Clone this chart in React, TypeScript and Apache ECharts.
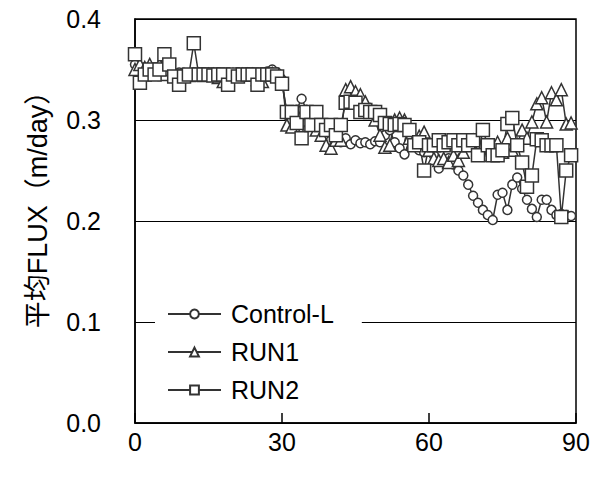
import React, { useEffect, useRef } from "react";
import * as echarts from "echarts";

const days = [
  0, 1, 2, 3, 4, 5, 6, 7, 8, 9, 10, 11, 12, 13, 14, 15, 16, 17, 18, 19,
  20, 21, 22, 23, 24, 25, 26, 27, 28, 29, 30, 31, 32, 33, 34, 35, 36, 37, 38, 39,
  40, 41, 42, 43, 44, 45, 46, 47, 48, 49, 50, 51, 52, 53, 54, 55, 56, 57, 58, 59,
  60, 61, 62, 63, 64, 65, 66, 67, 68, 69, 70, 71, 72, 73, 74, 75, 76, 77, 78, 79,
  80, 81, 82, 83, 84, 85, 86, 87, 88, 89,
];

const controlL = [
  0.355, 0.35, 0.345, 0.348, 0.345, 0.347, 0.345, 0.348, 0.345, 0.347,
  0.345, 0.346, 0.345, 0.347, 0.345, 0.346, 0.345, 0.347, 0.345, 0.346,
  0.345, 0.347, 0.346, 0.345, 0.347, 0.346, 0.347, 0.348, 0.35, 0.347,
  0.34, 0.305, 0.3, 0.31, 0.321, 0.31, 0.3, 0.298, 0.29, 0.285,
  0.28, 0.282, 0.278, 0.282, 0.276, 0.28, 0.277, 0.278, 0.276, 0.279,
  0.278, 0.285, 0.29, 0.278, 0.272, 0.266, 0.28, 0.275, 0.27, 0.268,
  0.272, 0.265, 0.252, 0.258, 0.262, 0.256, 0.25, 0.245, 0.236, 0.225,
  0.218, 0.211, 0.206, 0.201, 0.226, 0.228, 0.211, 0.236, 0.243, 0.232,
  0.221, 0.212, 0.204, 0.221, 0.221, 0.211, 0.206, 0.207, 0.206, 0.205,
];

const run1 = [
  0.35, 0.355, 0.352, 0.355, 0.348, 0.355, 0.345, 0.35, 0.345, 0.342,
  0.345, 0.344, 0.345, 0.345, 0.344, 0.345, 0.345, 0.342, 0.338, 0.34,
  0.345, 0.344, 0.345, 0.345, 0.345, 0.34, 0.338, 0.345, 0.346, 0.345,
  0.342, 0.295, 0.293, 0.3, 0.305, 0.3, 0.296, 0.29, 0.285, 0.275,
  0.272, 0.28, 0.28, 0.33, 0.333, 0.328, 0.325, 0.318, 0.31, 0.3,
  0.285, 0.273, 0.275, 0.3, 0.302, 0.3, 0.282, 0.275, 0.284, 0.288,
  0.27, 0.262, 0.26, 0.262, 0.258, 0.265, 0.26, 0.268, 0.275, 0.28,
  0.27, 0.268, 0.265, 0.27, 0.278, 0.268, 0.282, 0.27, 0.276, 0.29,
  0.282, 0.298, 0.316, 0.322, 0.298, 0.327, 0.32, 0.33, 0.296, 0.297,
];

const run2 = [
  0.365, 0.337, 0.345, 0.35, 0.345, 0.35, 0.365, 0.355, 0.343, 0.335,
  0.343, 0.345, 0.376, 0.345, 0.345, 0.345, 0.344, 0.345, 0.345, 0.335,
  0.345, 0.343, 0.345, 0.345, 0.345, 0.335, 0.345, 0.345, 0.345, 0.343,
  0.336, 0.308, 0.308, 0.297, 0.282, 0.308, 0.295, 0.308, 0.295, 0.29,
  0.295, 0.285, 0.295, 0.317, 0.318, 0.317, 0.308, 0.31, 0.308, 0.308,
  0.305, 0.297, 0.296, 0.295, 0.296, 0.295, 0.29, 0.275, 0.278, 0.25,
  0.275, 0.275, 0.28, 0.275, 0.278, 0.28, 0.275, 0.28, 0.275, 0.28,
  0.265, 0.29, 0.275, 0.265, 0.265, 0.27, 0.296, 0.302, 0.275, 0.258,
  0.234, 0.245, 0.281, 0.28, 0.275, 0.275, 0.275, 0.204, 0.25, 0.265,
];

const xTicks = [0, 30, 60, 90];
const yTicks = [0, 0.1, 0.2, 0.3, 0.4];

const FONT = "'Liberation Sans', Arial, 'Noto Sans CJK SC', sans-serif";
const INK = "#333333";

function pairs(values: number[]) {
  return days.map((d, i) => [d, values[i]]);
}

export default function App() {
  const ref = useRef<HTMLDivElement>(null);
  useEffect(() => {
    if (!ref.current) return;
    const chart = echarts.init(ref.current, undefined, { renderer: "svg" });
    const mk = (name: string, values: number[], symbol: string, size: number) => ({
      name,
      type: "line",
      data: pairs(values),
      symbol,
      symbolSize: size,
      showAllSymbol: true,
      lineStyle: { color: INK, width: 1.5 },
      itemStyle: { color: "#ffffff", borderColor: INK, borderWidth: 1.5 },
      emphasis: { disabled: true },
    });
    chart.setOption({
      animation: false,
      textStyle: { fontFamily: FONT },
      grid: {
        left: 135,
        right: 23,
        top: 19,
        bottom: 54,
        show: true,
        borderColor: "#000",
        borderWidth: 1.5,
        backgroundColor: "transparent",
      },
      legend: {
        orient: "vertical",
        left: 155,
        top: 296,
        padding: [4, 28, 8, 12],
        backgroundColor: "#ffffff",
        itemWidth: 53,
        itemHeight: 11,
        itemGap: 10,
        textStyle: {
          fontFamily: FONT,
          fontSize: 25,
          lineHeight: 28,
          color: "#000",
          padding: [0, 0, 0, 5],
        },
        data: ["Control-L", "RUN1", "RUN2"],
      },
      xAxis: {
        type: "value",
        min: xTicks[0],
        max: xTicks[xTicks.length - 1],
        interval: 30,
        axisLine: { show: true, lineStyle: { color: "#000", width: 1.5 } },
        axisTick: { show: true, inside: true, length: 10, lineStyle: { color: "#000", width: 1.5 } },
        splitLine: { show: false },
        axisLabel: { fontSize: 25, color: "#000", margin: 6, fontFamily: FONT },
      },
      yAxis: {
        type: "value",
        min: yTicks[0],
        max: yTicks[yTicks.length - 1],
        interval: 0.1,
        name: "平均FLUX（m/day）",
        nameLocation: "middle",
        nameRotate: 90,
        nameGap: 84,
        nameTextStyle: { fontSize: 27, color: "#000", fontFamily: FONT, padding: [0, 0, 0, 36] },
        axisLine: { show: true, lineStyle: { color: "#000", width: 1.5 } },
        axisTick: { show: false },
        splitLine: { show: true, lineStyle: { color: "#000", width: 1.2 } },
        axisLabel: {
          fontSize: 25,
          color: "#000",
          margin: 34,
          fontFamily: FONT,
          formatter: (v: number) => v.toFixed(1),
        },
      },
      series: [
        mk("Control-L", controlL, "circle", 9),
        mk("RUN1", run1, "triangle", 12),
        mk("RUN2", run2, "rect", 13),
      ],
    });
    return () => chart.dispose();
  }, []);
  return <div ref={ref} style={{ width: 599, height: 477, position: "absolute", left: 0, top: 0 }} />;
}
